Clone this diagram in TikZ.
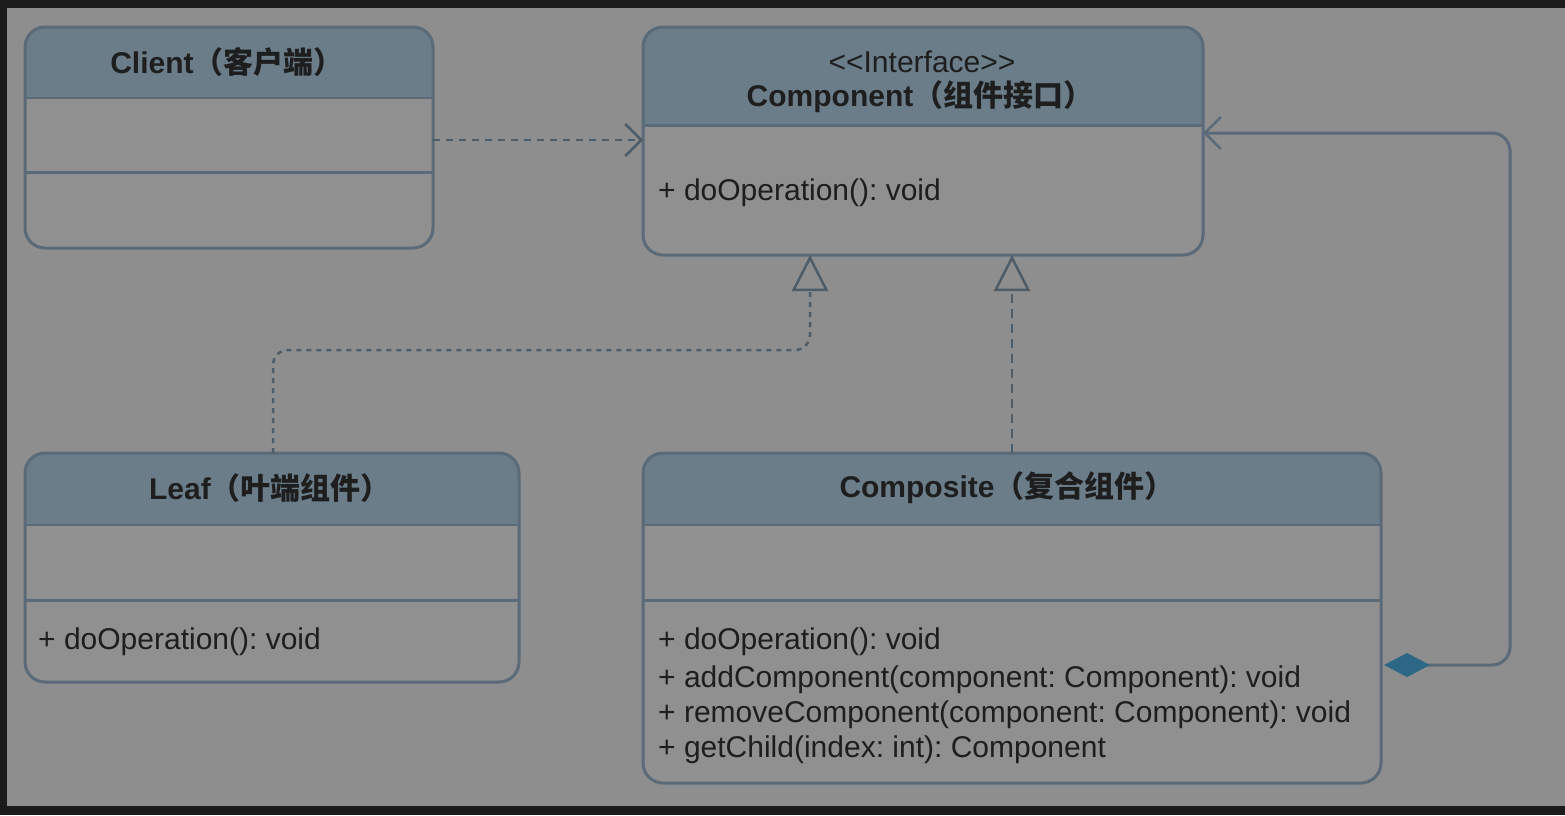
\documentclass[tikz,border=0pt]{standalone}
\usepackage{fontspec}
\setmainfont{Liberation Sans}
\newfontfamily\cjk{Noto Sans CJK SC}
\usetikzlibrary{arrows.meta}
\frenchspacing
\definecolor{framec}{HTML}{1B1B1B}
\definecolor{bgc}{HTML}{8E8E8E}
\definecolor{hdrc}{HTML}{6A7D89}
\definecolor{bodyc}{HTML}{909090}
\definecolor{edgec}{HTML}{5A6A78}
\definecolor{connc}{HTML}{4E5C68}
\definecolor{diac}{HTML}{2C6886}
\definecolor{txtc}{HTML}{1E1E1E}
\tikzset{
  umlbox/.style={inner sep=0pt, outer sep=0pt, anchor=north west},
  boxline/.style={draw=edgec, line width=3pt, rounded corners=20pt},
  titletext/.style={font=\bfseries\fontsize{30}{36}\selectfont, text=txtc, inner sep=0pt},
  stereo/.style={font=\fontsize{30}{34}\selectfont, text=txtc, inner sep=0pt},
  membertext/.style={font=\fontsize{30}{36}\selectfont, anchor=west, inner sep=0pt, text=txtc},
  sepline/.style={draw=edgec, line width=3pt},
  hdrline/.style={draw=edgec, line width=1.5pt},
  depend/.style={draw=connc, line width=2.5pt, dash pattern=on 7pt off 6pt,
    -{Straight Barb[length=16pt,width=32pt,line width=2.5pt]}},
  realizedot/.style={draw=connc, line width=2.5pt, dash pattern=on 5pt off 5pt, rounded corners=15pt,
    -{Triangle[open,length=36pt,width=36pt,line width=2.5pt,fill=bgc]}},
  realizedash/.style={draw=connc, line width=2.5pt, dash pattern=on 9pt off 6pt,
    -{Triangle[open,length=36pt,width=36pt,line width=2.5pt,fill=bgc]}},
  assoc/.style={draw=edgec, line width=3pt, rounded corners=18pt,
    {Diamond[length=46pt,width=24pt,color=diac]}-{Straight Barb[length=16pt,width=32pt,line width=2.5pt]}},
}
% name, x1, y1, x2, y2, header bottom, separator
\newcommand\umlclassbox[7]{%
  \node[umlbox, minimum width=#4-#2, minimum height=#5-#3] (#1) at (#2,#3) {};
  \fill[bodyc, rounded corners=20pt] (#1.north west) rectangle (#1.south east);
  \begin{scope}
    \clip[rounded corners=20pt] (#1.north west) rectangle (#1.south east);
    \fill[hdrc] (#2,#3) rectangle (#4,#6);
  \end{scope}
  \draw[hdrline] (#2,#6) -- (#4,#6);
  \draw[sepline] (#2,#7) -- (#4,#7);
  \draw[boxline] (#1.north west) rectangle (#1.south east);
}
\begin{document}
\begin{tikzpicture}[x=1pt,y=-1pt]
\useasboundingbox (0,0) rectangle (1565,815);
\fill[framec] (0,0) rectangle (1565,815);
\fill[bgc] (7,8) rectangle (1565,806);

% boxes
\umlclassbox{client}{25}{27}{433}{248}{98}{172}
\umlclassbox{component}{643}{27}{1203}{255}{125}{125}
\umlclassbox{leaf}{25}{453}{519}{682}{525}{600}
\umlclassbox{composite}{643}{453}{1381}{783}{525}{600}

% texts
\node[titletext] (client-t) at (227,62) {Client{\cjk （客户端）}};
\node[stereo] (comp-st) at (922,62) {{<}{<}Interface{>}{>}};
\node[titletext] (comp-t) at (920,97) {Component{\cjk （组件接口）}};
\node[membertext] (comp-m1) at (658,193) {+ doOperation(): void};
\node[titletext] (leaf-t) at (270,488) {Leaf{\cjk （叶端组件）}};
\node[membertext] (leaf-m1) at (38,642) {+ doOperation(): void};
\node[titletext] (compo-t) at (1007,488) {Composite{\cjk （复合组件）}};
\node[membertext] (compo-m1) at (658,642) {+ doOperation(): void};
\node[membertext] (compo-m2) at (658,680) {+ addComponent(component: Component): void};
\node[membertext] (compo-m3) at (658,715) {+ removeComponent(component: Component): void};
\node[membertext] (compo-m4) at (658,750) {+ getChild(index: int): Component};

% helper coordinates
\coordinate (y140) at (0,140);
\coordinate (y133) at (0,133);
\coordinate (y665) at (0,665);
\coordinate (x273) at (273,0);
\coordinate (x810) at (810,0);
\coordinate (x1012) at (1012,0);
\coordinate (leafbend) at (273,350);
\coordinate (compbend) at (810,350);
\coordinate (assocbot) at (1510,665);
\coordinate (assoctop) at (1510,133);

% connectors
\draw[depend] (client.east |- y140) -- (component.west |- y140);
\draw[realizedot] (leaf.north -| x273) -- (leafbend) -- (compbend) -- (component.south -| x810);
\draw[realizedash] (composite.north -| x1012) -- (component.south -| x1012);
\draw[assoc] ([xshift=3pt]composite.east |- y665) -- (assocbot) -- (assoctop) -- (component.east |- y133);
\end{tikzpicture}
\end{document}
